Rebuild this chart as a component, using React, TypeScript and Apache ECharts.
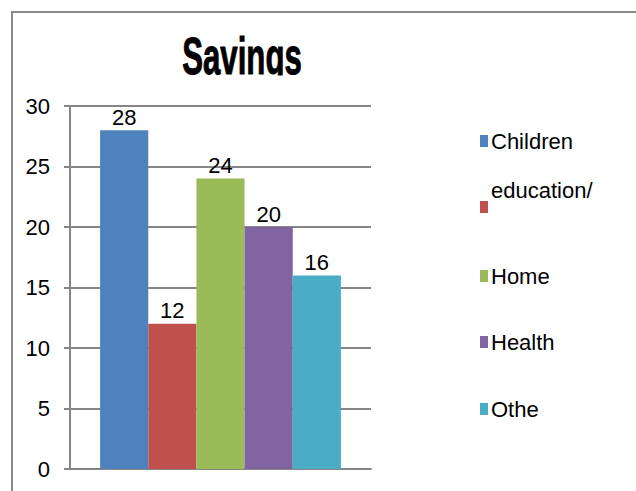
import React, { useEffect, useRef } from "react";
import * as echarts from "echarts";

const seriesNames = ["Children", "education/", "Home", "Health", "Othe"];
const values = [28, 12, 24, 20, 16];
const colors = ["#4F81BD", "#C0504D", "#9BBB59", "#8064A2", "#4BACC6"];
const categories = ["Savings"];
const titleText = "Savings";
const legendCenters = [141, 207, 276, 342, 409];

export default function App() {
  const ref = useRef<HTMLDivElement>(null);
  useEffect(() => {
    if (!ref.current) return;
    const chart = echarts.init(ref.current, null, { renderer: "svg" });
    const font = '"Liberation Sans", Arial, sans-serif';
    const legends = seriesNames.map((n, i) => ({
      data: [n],
      left: 480,
      top: i === 1 ? legendCenters[i] - 34 : legendCenters[i] - 11,
      padding: 0,
      itemWidth: 8,
      itemHeight: 12,
      itemGap: 0,
      icon: "rect",
      formatter: i === 1 ? (name: string) => name + "\n " : undefined,
      textStyle: {
        fontFamily: font,
        fontSize: 22,
        color: "#000",
        lineHeight: i === 1 ? 34 : undefined,
        padding: [0, 0, 0, -2],
      },
    }));
    chart.setOption({
      animation: false,
      backgroundColor: "#fff",
      textStyle: { fontFamily: font },
      legend: legends,
      grid: { left: 70, right: 265, top: 106, bottom: 22, containLabel: false },
      xAxis: {
        type: "category",
        data: categories,
        axisLine: { lineStyle: { color: "#868686", width: 2 } },
        axisTick: { show: false },
        axisLabel: { show: false },
      },
      yAxis: {
        type: "value",
        min: 0,
        max: 30,
        interval: 5,
        axisLine: { show: true, lineStyle: { color: "#868686", width: 2 } },
        axisTick: { show: true, length: 6, lineStyle: { color: "#868686", width: 2 } },
        axisLabel: { fontSize: 22, color: "#000", margin: 20, fontFamily: font },
        splitLine: { lineStyle: { color: "#868686", width: 2 } },
      },
      series: seriesNames.map((n, i) => ({
        type: "bar",
        name: n,
        data: [values[i]],
        barGap: "0%",
        barCategoryGap: "20%",
        itemStyle: { color: colors[i] },
        label: {
          show: true,
          position: "top",
          distance: 2,
          fontSize: 22,
          color: "#000",
          fontFamily: font,
        },
      })),
      graphic: [
        {
          type: "text",
          x: 242,
          y: 56,
          scaleX: 0.6,
          z: 10,
          style: {
            text: titleText,
            align: "center",
            verticalAlign: "middle",
            font: 'bold 52px "Liberation Sans", Arial, sans-serif',
            fill: "#000",
            stroke: "#000",
            lineWidth: 1,
          },
        },
        {
          type: "rect",
          z: 11,
          shape: { x: 150, y: 75.5, width: 200, height: 28 },
          style: { fill: "#fff" },
        },
        {
          type: "rect",
          z: 12,
          shape: { x: 12, y: 12, width: 700, height: 600 },
          style: { fill: "none", stroke: "#8a8a8a", lineWidth: 2 },
        },
      ],
    });
    return () => chart.dispose();
  }, []);
  return (
    <div
      ref={ref}
      style={{ position: "fixed", left: 0, top: 0, width: 636, height: 491 }}
    />
  );
}
